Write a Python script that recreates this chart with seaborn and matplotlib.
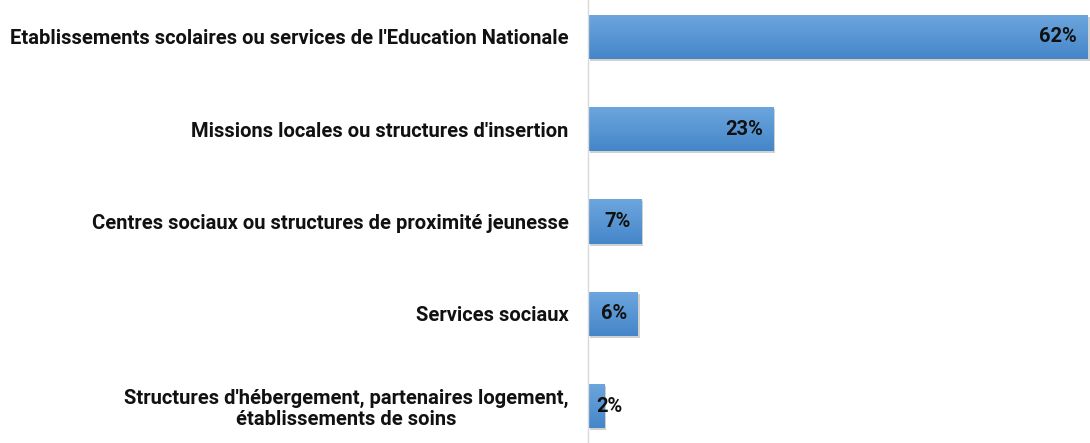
import numpy as np
import pandas as pd
import matplotlib
matplotlib.use("Agg")
import matplotlib.pyplot as plt
import matplotlib.patheffects as pe
import seaborn as sns

categories = [
    "Etablissements scolaires ou services de l'Education Nationale",
    "Missions locales ou structures d'insertion",
    "Centres sociaux ou structures de proximité jeunesse",
    "Services sociaux",
    "Structures d'hébergement, partenaires logement,\nétablissements de soins",
]
values = [62, 23, 6.6, 6.2, 2]

df = pd.DataFrame({"cat": categories, "val": values})

sns.set_theme(style="white")
plt.rcParams["font.family"] = ["Roboto", "DejaVu Sans"]

fig = plt.figure(figsize=(10.9, 4.43), dpi=100)
ax = fig.add_axes([588 / 1090, 0.0, 1 - 588 / 1090, 1.0])

sns.barplot(data=df, x="val", y="cat", orient="h", color="#5b9bd5",
            width=0.48, saturation=1, ax=ax)

# gradient fill + soft shadow on each bar
grad = np.linspace(0, 1, 64).reshape(-1, 1)
cmap = matplotlib.colors.LinearSegmentedColormap.from_list("g", ["#6da6de", "#4586c9"])
for p in ax.patches:
    x0, y0 = p.get_x(), p.get_y()
    w, h = p.get_width(), p.get_height()
    p.set_edgecolor("none")
    p.set_path_effects([pe.SimplePatchShadow(offset=(1.5, -1.5), shadow_rgbFace="#666666", alpha=0.3),
                        pe.Normal()])
    im = ax.imshow(grad, extent=(x0, x0 + w, y0 + h, y0), cmap=cmap, aspect="auto", zorder=p.get_zorder() + 0.1)
    im.set_clip_path(p)

ax.set_xlim(0, 62.3)
ax.set_ylim(4.4, -0.4)

for i, v in enumerate(values):
    label = f"{v:.0f}%"
    if v < 4:
        ax.annotate(label, (v, i), xytext=(-6, 0), textcoords="offset points",
                    ha="left", va="center", fontsize=14.5, fontweight="bold", color="#111111", zorder=5)
    else:
        ax.annotate(label, (v, i), xytext=(-7.5, 0), textcoords="offset points",
                    ha="right", va="center", fontsize=14.5, fontweight="bold", color="#111111", zorder=5)

ax.set_xlabel("")
ax.set_ylabel("")
ax.set_xticks([])
ax.tick_params(axis="y", length=0, pad=14)
for t in ax.get_yticklabels():
    t.set_fontsize(14.5)
    t.set_fontweight("bold")
    t.set_color("#111111")
    t.set_multialignment("center")
    t.set_linespacing(1.1)

for s in ["top", "right", "bottom"]:
    ax.spines[s].set_visible(False)
ax.spines["left"].set_color("#d9d9d9")
ax.spines["left"].set_linewidth(1)

fig.savefig("out.png", dpi=100)
